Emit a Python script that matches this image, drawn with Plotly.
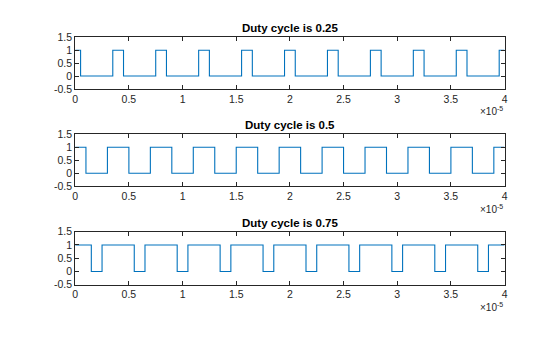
import plotly.graph_objects as go

# Transition times (units of 1e-5 s) and the level that starts at each time
t_025 = [0, 0.05, 0.35, 0.45, 0.75, 0.85, 1.15, 1.25, 1.55, 1.65, 1.95, 2.05,
         2.35, 2.45, 2.75, 2.85, 3.15, 3.25, 3.55, 3.65, 3.95, 4.0]
y_025 = [1, 0, 1, 0, 1, 0, 1, 0, 1, 0, 1, 0, 1, 0, 1, 0, 1, 0, 1, 0, 1, 1]

t_050 = [0, 0.1, 0.3, 0.5, 0.7, 0.9, 1.1, 1.3, 1.5, 1.7, 1.9, 2.1,
         2.3, 2.5, 2.7, 2.9, 3.1, 3.3, 3.5, 3.7, 3.9, 4.0]
y_050 = [1, 0, 1, 0, 1, 0, 1, 0, 1, 0, 1, 0, 1, 0, 1, 0, 1, 0, 1, 0, 1, 1]

t_075 = [0, 0.15, 0.25, 0.55, 0.65, 0.95, 1.05, 1.35, 1.45, 1.75, 1.85, 2.15,
         2.25, 2.55, 2.65, 2.95, 3.05, 3.35, 3.45, 3.75, 3.85, 4.0]
y_075 = [1, 0, 1, 0, 1, 0, 1, 0, 1, 0, 1, 0, 1, 0, 1, 0, 1, 0, 1, 0, 1, 1]

titles = ["Duty cycle is 0.25", "Duty cycle is 0.5", "Duty cycle is 0.75"]
x_ticks = [0, 0.5, 1, 1.5, 2, 2.5, 3, 3.5, 4]
x_ticklabels = ["0", "0.5", "1", "1.5", "2", "2.5", "3", "3.5", "4"]
y_ticks = [-0.5, 0, 0.5, 1, 1.5]
y_ticklabels = ["-0.5", "0", "0.5", "1", "1.5"]
exp_label = "×10<sup>-5</sup>"

series = [(t_025, y_025), (t_050, y_050), (t_075, y_075)]

W, H = 560, 337
x_dom = [73 / W, 507 / W]
y_doms = [[1 - 86 / H, 1 - 32.5 / H],
          [1 - 187 / H, 1 - 133 / H],
          [1 - 289 / H, 1 - 234 / H]]

FONT = "Liberation Sans, Arial, Helvetica, sans-serif"
AXC = "#262626"

fig = go.Figure()
annotations = []
for i, (tt, yy) in enumerate(series):
    n = "" if i == 0 else str(i + 1)
    fig.add_trace(go.Scatter(
        x=tt, y=yy, mode="lines", line=dict(color="#0072BD", width=1.1, shape="hv"),
        xaxis="x" + n, yaxis="y" + n, showlegend=False, hoverinfo="skip"))
    common = dict(showline=True, linecolor=AXC, linewidth=1, mirror="ticks",
                  ticks="inside", ticklen=4, tickcolor=AXC, tickwidth=1,
                  showgrid=False, zeroline=False,
                  tickfont=dict(family=FONT, size=10.5, color=AXC))
    fig.update_layout(**{
        "xaxis" + n: dict(domain=x_dom, range=[0, 4], anchor="y" + n,
                          tickvals=x_ticks, ticktext=x_ticklabels, **common),
        "yaxis" + n: dict(domain=y_doms[i], range=[-0.5, 1.5], anchor="x" + n,
                          tickvals=y_ticks, ticktext=y_ticklabels, **common),
    })
    annotations.append(dict(
        text="<b>" + titles[i] + "</b>", xref="paper", yref="paper",
        x=(x_dom[0] + x_dom[1]) / 2, y=y_doms[i][1] + 1 / H,
        xanchor="center", yanchor="bottom", showarrow=False,
        font=dict(family=FONT, size=11.5, color="#000000")))
    annotations.append(dict(
        text=exp_label, xref="paper", yref="paper",
        x=x_dom[1], y=y_doms[i][0] - 15 / H,
        xanchor="right", yanchor="top", showarrow=False,
        font=dict(family=FONT, size=10, color=AXC)))

fig.update_layout(width=W, height=H, margin=dict(l=0, r=0, t=0, b=0),
                  paper_bgcolor="white", plot_bgcolor="white",
                  annotations=annotations)
fig.write_html("out.html")
